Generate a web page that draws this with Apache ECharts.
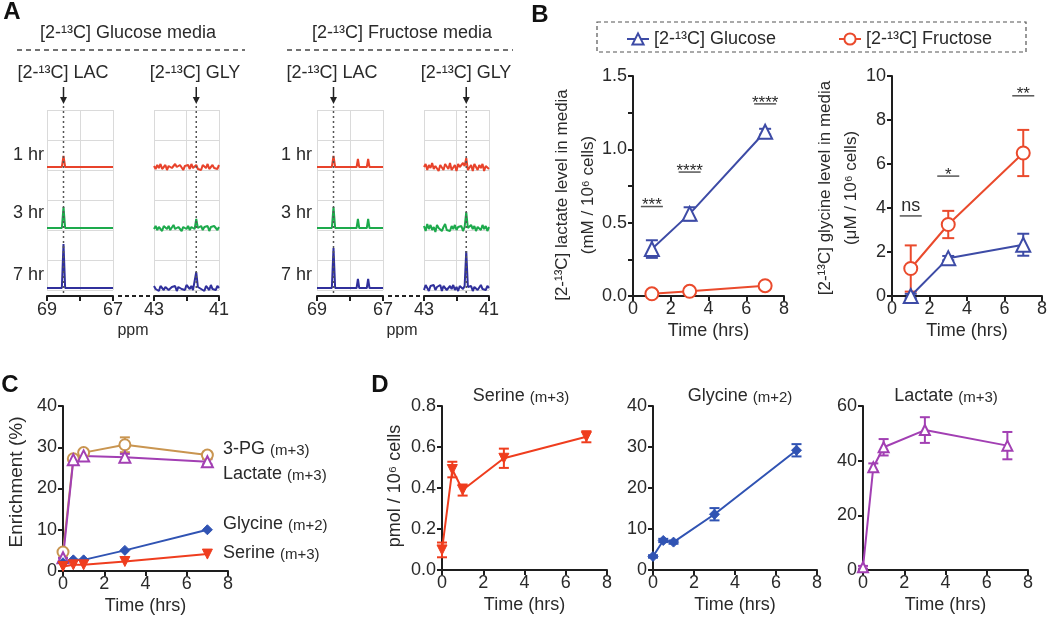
<!DOCTYPE html>
<html><head><meta charset="utf-8">
<script src="https://cdn.jsdelivr.net/npm/echarts@6/dist/echarts.min.js"></script>
<style>html,body{margin:0;padding:0;background:#fff}#c{width:1050px;height:617px}</style>
</head><body><div id="c"></div><script>
// ================= DATA =================
// ---- Panel A: 13C NMR spectra, points are [ppm, intensity (a.u.)] ----
const spectrumHours = ['1 hr', '3 hr', '7 hr'];
const lacTickLabels = [69, 67];
const glyTickLabels = [43, 41];
const lacPeakPpm = 68.5;
const glyPeakPpm = 41.7;
const glyPpmStart = 43, glyPpmStep = 0.05;

const glcLac1h = [[69,0],[68.55,0],[68.5,11],[68.45,0],[67,0]];
const glcLac3h = [[69,0],[68.55,0],[68.5,21],[68.45,0],[67,0]];
const glcLac7h = [[69,0],[68.55,0],[68.5,44],[68.45,0],[67,0]];
const frcLac1h = [[69,0],[68.55,0],[68.5,11],[68.45,0],[67.8,0],[67.76,8],[67.72,0],[67.49,0],[67.45,8],[67.41,0],[67,0]];
const frcLac3h = [[69,0],[68.55,0],[68.5,21],[68.45,0],[67.8,0],[67.76,9],[67.72,0],[67.49,0],[67.45,9],[67.41,0],[67,0]];
const frcLac7h = [[69,0],[68.55,0],[68.5,40],[68.45,0],[67.8,0],[67.76,9],[67.72,0],[67.49,0],[67.45,9],[67.41,0],[67,0]];

// glycine region: intensities sampled every 0.05 ppm from 43 to 41
const glcGly1h = [1,-2,2,-1,3,-2,0,2,-3,1,2,-1,-2,3,0,-2,2,1,-3,1,0,2,-2,3,-1,1,2,-2,0,-3,2,1,-1,3,-2,0,2,-1,1,-2,2];
const glcGly3h = [-1,2,-2,1,0,-3,2,1,-1,2,-2,0,3,-1,-2,1,2,-3,1,0,-1,2,-2,1,3,-1,9,0,-1,2,-2,1,0,2,-3,1,-1,2,0,-2,1];
const glcGly7h = [2,-1,1,-3,2,0,-2,1,3,-2,0,1,-1,2,-3,1,2,-1,0,-2,3,1,-1,2,-2,0,16,1,2,-1,1,-3,2,0,-2,3,-1,1,-2,2,0];
const frcGly1h = [0,3,-3,2,-1,4,-2,1,3,-4,2,0,-3,3,1,-2,4,-3,-1,2,-4,3,0,-2,4,1,9,-3,-2,2,-4,3,1,-3,2,-1,3,-4,1,2,-2];
const frcGly3h = [2,-3,4,-1,3,-2,1,-4,3,0,2,-3,1,4,-2,0,-3,2,-1,3,-2,1,-1,2,-3,1,16,0,-2,3,-1,2,-3,1,0,-2,3,-1,2,-3,1];
const frcGly7h = [-2,3,1,-3,2,0,3,-2,1,-1,3,-3,2,1,-2,0,2,-1,3,-2,1,-3,2,0,-1,2,37,1,-1,2,-3,1,2,-2,0,3,-1,1,-2,2,0];

// ---- Panel B ----
const GLC_NAME = '[2-\u00B9\u00B3C] Glucose';
const FRC_NAME = '[2-\u00B9\u00B3C] Fructose';
const bTime = [1, 3, 7];
const bLacGlc = [0.32, 0.56, 1.12];
const bLacGlcErr = [0.06, 0.045, 0.02];
const bLacFrc = [0.015, 0.032, 0.07];
const bLacFrcErr = [0.005, 0.005, 0.008];
const bLacSig = ['***', '****', '****'];
const bLacSigY = [0.61, 0.845, 1.31];
const bGlyGlc = [0.0, 1.72, 2.33];
const bGlyGlcErr = [0.1, 0.1, 0.5];
const bGlyFrc = [1.25, 3.25, 6.5];
const bGlyFrcErr = [1.05, 0.62, 1.05];
const bGlySig = ['ns', '*', '**'];
const bGlySigY = [3.64, 5.45, 9.1];

// ---- Panel C: enrichment (%) ----
const cTime = [0, 0.5, 1, 3, 7];
const c3pg = [4.6, 27.2, 28.7, 30.6, 28.1];
const c3pgErr = [0, 0, 0, 1.8, 0.8];
const cLac = [3.2, 27.0, 27.9, 27.6, 26.5];
const cLacErr = [0, 0, 0, 0.8, 0.6];
const cGly = [2.0, 2.7, 2.7, 5.0, 10.0];
const cSer = [1.1, 1.5, 1.5, 2.3, 4.1];

// ---- Panel D: pmol / 10^6 cells ----
const dTime = [0, 0.5, 1, 3, 7];
const dSer = [0.098, 0.49, 0.39, 0.545, 0.65];
const dSerErr = [0.036, 0.038, 0.027, 0.047, 0.027];
const dGly = [3.3, 7.2, 6.8, 13.6, 29.2];
const dGlyErr = [0.3, 0.4, 0.4, 1.5, 1.5];
const dLac = [1.0, 37.6, 44.9, 51.2, 45.5];
const dLacErr = [0.5, 1.4, 3.0, 4.7, 5.0];

// ================= STYLE =================
const FONT = "'Liberation Sans', Arial, sans-serif";
const TXT = '#2a2a2a', AX = '#1e1e1e', GRIDC = '#dadada';
const SPEC_COLORS = ['#e8432b', '#1daa4c', '#30309c'];
const BLUE_B = '#3d4ba6', RED_B = '#ea4a2c';
const TAN = '#c99550', PURPLE = '#a23fb3', BLUE_C = '#3053b3', RED_C = '#ef3d1e';
const traceOffsets = [123, 62, 2]; // vertical stacking of 1/3/7 hr traces

const grids = [
  {left:47, top:110, width:66, height:180},
  {left:154, top:110, width:65, height:180},
  {left:317, top:110, width:66, height:180},
  {left:424, top:110, width:65, height:180},
  {left:633, top:76, width:151, height:220},
  {left:892, top:76, width:153, height:220},
  {left:63, top:406, width:165, height:165},
  {left:442, top:406, width:165, height:164},
  {left:653, top:406, width:164, height:164},
  {left:863, top:406, width:165, height:164}
];

const zip = (xs, ys) => xs.map((x, k) => [x, ys[k]]);
const glyPts = arr => arr.map((v, k) => [+(glyPpmStart - k * glyPpmStep).toFixed(3), v]);

function nmrX(i, labels) {
  return {gridIndex:i, type:'value', min:Math.min(...labels), max:Math.max(...labels), interval:1, inverse:true, offset:6,
    axisLine:{onZero:false, lineStyle:{color:AX, width:2}},
    axisTick:{length:5, lineStyle:{color:AX, width:2}},
    axisLabel:{color:TXT, fontSize:18, fontFamily:FONT, margin:5, formatter:v => labels.indexOf(v) >= 0 ? String(v) : ''},
    splitLine:{show:true, lineStyle:{color:GRIDC, width:1}}};
}
function nmrY(i) {
  return {gridIndex:i, type:'value', min:0, max:180, interval:30,
    axisLine:{show:false}, axisTick:{show:false}, axisLabel:{show:false},
    splitLine:{show:true, lineStyle:{color:GRIDC, width:1}}};
}
function timeX(i) {
  return {gridIndex:i, type:'value', min:0, max:8, interval:2,
    axisLine:{onZero:false, lineStyle:{color:AX, width:2}},
    axisTick:{length:5, lineStyle:{color:AX, width:2}},
    axisLabel:{color:TXT, fontSize:18, fontFamily:FONT, margin:4},
    splitLine:{show:false},
    name:'Time (hrs)', nameLocation:'middle', nameGap:26,
    nameTextStyle:{color:TXT, fontSize:18, fontFamily:FONT}};
}
function valY(i, max, interval, dec, minor) {
  const a = {gridIndex:i, type:'value', min:0, max, interval,
    axisLine:{onZero:false, lineStyle:{color:AX, width:2}},
    axisTick:{length:5, lineStyle:{color:AX, width:2}},
    axisLabel:{color:TXT, fontSize:18, fontFamily:FONT, margin:6, formatter:v => dec ? v.toFixed(dec) : String(Math.round(v))},
    splitLine:{show:false}};
  if (minor) a.minorTick = {show:true, splitNumber:minor, length:5, lineStyle:{color:AX, width:2}};
  return a;
}

function specSeries(gi, pts, k, w) {
  return {type:'line', xAxisIndex:gi, yAxisIndex:gi, data:pts.map(p => [p[0], p[1] + traceOffsets[k]]),
    symbol:'none', clip:false, silent:true, z:3, lineStyle:{color:SPEC_COLORS[k], width:w}};
}
function lineSeries(gi, name, xs, ys, color, symbol, size, open, rot) {
  return {type:'line', name, xAxisIndex:gi, yAxisIndex:gi, data:zip(xs, ys), clip:false, z:4,
    symbol, symbolSize:size, symbolRotate:rot || 0,
    itemStyle:open ? {color:'#fff', borderColor:color, borderWidth:2} : {color, borderColor:color, borderWidth:1},
    lineStyle:{color, width:2}};
}
function errSeries(gi, xs, ys, es, color, cap) {
  return {type:'custom', xAxisIndex:gi, yAxisIndex:gi, clip:false, z:3, silent:true,
    data:xs.map((x, k) => [x, ys[k], es[k]]), encode:{x:0, y:1},
    renderItem:(params, api) => {
      const x = api.value(0), y = api.value(1), e = api.value(2);
      const t = api.coord([x, y + e]), b = api.coord([x, y - e]);
      const st = {stroke:color, lineWidth:2};
      return {type:'group', children:[
        {type:'line', shape:{x1:t[0], y1:t[1], x2:b[0], y2:b[1]}, style:st},
        {type:'line', shape:{x1:t[0]-cap, y1:t[1], x2:t[0]+cap, y2:t[1]}, style:st},
        {type:'line', shape:{x1:b[0]-cap, y1:b[1], x2:b[0]+cap, y2:b[1]}, style:st}]};
    }};
}
function sigSeries(gi, xs, labels, ys) {
  return {type:'custom', xAxisIndex:gi, yAxisIndex:gi, clip:false, z:5, silent:true,
    data:xs.map((x, k) => [x, ys[k], k]), encode:{x:0, y:1},
    renderItem:(params, api) => {
      const p = api.coord([api.value(0), api.value(1)]);
      const lab = labels[api.value(2)];
      const star = lab.indexOf('*') >= 0;
      return {type:'group', children:[
        {type:'line', shape:{x1:p[0]-11, y1:p[1], x2:p[0]+11, y2:p[1]}, style:{stroke:'#555', lineWidth:1.5}},
        {type:'text', style:{text:lab, x:p[0], y:star ? p[1]-1 : p[1]-1,
          align:'center', textAlign:'center', verticalAlign:star ? 'middle' : 'bottom', textVerticalAlign:star ? 'middle' : 'bottom',
          fill:TXT, fontSize:star ? 17 : 18, fontFamily:FONT}}]};
    }};
}

const series = [];
[glcLac1h, glcLac3h, glcLac7h].forEach((d, k) => series.push(specSeries(0, d, k, 2)));
[glcGly1h, glcGly3h, glcGly7h].forEach((d, k) => series.push(specSeries(1, glyPts(d), k, 2)));
[frcLac1h, frcLac3h, frcLac7h].forEach((d, k) => series.push(specSeries(2, d, k, 2)));
[frcGly1h, frcGly3h, frcGly7h].forEach((d, k) => series.push(specSeries(3, glyPts(d), k, 2)));

series.push(errSeries(4, bTime, bLacGlc, bLacGlcErr, BLUE_B, 6));
series.push(errSeries(4, bTime, bLacFrc, bLacFrcErr, RED_B, 6));
series.push(lineSeries(4, GLC_NAME, bTime, bLacGlc, BLUE_B, 'triangle', 14, true));
series.push(lineSeries(4, FRC_NAME, bTime, bLacFrc, RED_B, 'circle', 13, true));
series.push(sigSeries(4, bTime, bLacSig, bLacSigY));
series.push(errSeries(5, bTime, bGlyGlc, bGlyGlcErr, BLUE_B, 6));
series.push(errSeries(5, bTime, bGlyFrc, bGlyFrcErr, RED_B, 6));
series.push(lineSeries(5, GLC_NAME, bTime, bGlyGlc, BLUE_B, 'triangle', 14, true));
series.push(lineSeries(5, FRC_NAME, bTime, bGlyFrc, RED_B, 'circle', 13, true));
series.push(sigSeries(5, bTime, bGlySig, bGlySigY));

series.push(errSeries(6, cTime, c3pg, c3pgErr, TAN, 5));
series.push(errSeries(6, cTime, cLac, cLacErr, PURPLE, 5));
series.push(lineSeries(6, '3-PG', cTime, c3pg, TAN, 'circle', 11, true));
series.push(lineSeries(6, 'Lactate', cTime, cLac, PURPLE, 'triangle', 11, true));
series.push(lineSeries(6, 'Glycine', cTime, cGly, BLUE_C, 'diamond', 10, false));
series.push(lineSeries(6, 'Serine', cTime, cSer, RED_C, 'triangle', 10, false, 180));

series.push(errSeries(7, dTime, dSer, dSerErr, RED_C, 5));
series.push(lineSeries(7, 'Serine D', dTime, dSer, RED_C, 'triangle', 10, false, 180));
series.push(errSeries(8, dTime, dGly, dGlyErr, BLUE_C, 5));
series.push(lineSeries(8, 'Glycine D', dTime, dGly, BLUE_C, 'diamond', 10, false));
series.push(errSeries(9, dTime, dLac, dLacErr, PURPLE, 5));
series.push(lineSeries(9, 'Lactate D', dTime, dLac, PURPLE, 'triangle', 10, true));

const option = {
  animation:false,
  backgroundColor:'#fff',
  textStyle:{fontFamily:FONT},
  grid:grids,
  xAxis:[nmrX(0, lacTickLabels), nmrX(1, glyTickLabels), nmrX(2, lacTickLabels), nmrX(3, glyTickLabels),
         timeX(4), timeX(5), timeX(6), timeX(7), timeX(8), timeX(9)],
  yAxis:[nmrY(0), nmrY(1), nmrY(2), nmrY(3),
         valY(4, 1.5, 0.5, 1, 2), valY(5, 10, 2, 0), valY(6, 40, 10, 0), valY(7, 0.8, 0.2, 1), valY(8, 40, 10, 0), valY(9, 60, 20, 0)],
  legend:{data:[GLC_NAME, FRC_NAME], left:621, top:25, itemWidth:22, itemHeight:14, itemGap:62, selectedMode:false,
    textStyle:{fontSize:18, color:TXT, fontFamily:FONT}},
  series
};

const chart = echarts.init(document.getElementById('c'), null, {renderer:'canvas'});
chart.setOption(option);

// ============ annotations ============
function txt(x, y, text, size, o) {
  o = o || {};
  const al = o.align || 'center';
  const st = {text, fontSize:size, fontFamily:FONT, fill:o.color || TXT, fontWeight:o.bold ? 'bold' : 'normal',
    align:al, textAlign:al, verticalAlign:'middle', textVerticalAlign:'middle'};
  if (o.rich) st.rich = o.rich;
  if (o.lh) st.lineHeight = o.lh;
  return {type:'text', x, y, rotation:o.rot || 0, z:100, style:st};
}
const richM = {
  a:{fontSize:18, fontFamily:FONT, fill:TXT, color:TXT, verticalAlign:'bottom', lineHeight:20},
  b:{fontSize:15, fontFamily:FONT, fill:TXT, color:TXT, verticalAlign:'bottom', lineHeight:20}
};
function line(x1, y1, x2, y2, stroke, w, dash) {
  const s = {stroke, lineWidth:w};
  if (dash) s.lineDash = dash;
  return {type:'line', z:100, shape:{x1, y1, x2, y2}, style:s};
}

const g = [];
// panel letters
g.push(txt(12, 12, 'A', 24, {bold:true, color:'#111'}));
g.push(txt(540, 15, 'B', 24, {bold:true, color:'#111'}));
g.push(txt(10, 385, 'C', 24, {bold:true, color:'#111'}));
g.push(txt(380, 385, 'D', 24, {bold:true, color:'#111'}));

// panel A headers
g.push(txt(128, 33, '[2-\u00B9\u00B3C] Glucose media', 18));
g.push(line(17, 50, 245, 50, '#444', 1.5, [5, 4]));
g.push(txt(402, 33, '[2-\u00B9\u00B3C] Fructose media', 18));
g.push(line(287, 50, 513, 50, '#444', 1.5, [5, 4]));
g.push(txt(63, 73, '[2-\u00B9\u00B3C] LAC', 18));
g.push(txt(195, 73, '[2-\u00B9\u00B3C] GLY', 18));
g.push(txt(332, 73, '[2-\u00B9\u00B3C] LAC', 18));
g.push(txt(466, 73, '[2-\u00B9\u00B3C] GLY', 18));
const hrY = [155, 213, 275];
spectrumHours.forEach((h, k) => {
  g.push(txt(44, hrY[k], h, 18, {align:'right'}));
  g.push(txt(312, hrY[k], h, 18, {align:'right'}));
});
g.push(txt(133, 331, 'ppm', 16));
g.push(txt(402, 331, 'ppm', 16));
// axis breaks
g.push(line(118, 296, 150, 296, '#222', 2, [4, 3]));
g.push(line(388, 296, 420, 296, '#222', 2, [4, 3]));
// arrows + dotted guide lines at peak positions
[[0, lacPeakPpm], [1, glyPeakPpm], [2, lacPeakPpm], [3, glyPeakPpm]].forEach(([gi, ppm]) => {
  const x = chart.convertToPixel({xAxisIndex:gi}, ppm);
  g.push(line(x, 87, x, 98, '#222', 1.5));
  g.push({type:'polygon', z:100, shape:{points:[[x-3.5, 97], [x+3.5, 97], [x, 104]]}, style:{fill:'#222'}});
  g.push(line(x, 106, x, 296, '#555', 1.5, [2, 3]));
});

// panel B legend box
g.push({type:'rect', z:100, shape:{x:597, y:22, width:429, height:30}, style:{fill:'none', stroke:'#555', lineWidth:1.2, lineDash:[4, 3]}});
// panel B y titles
g.push(txt(575, 195, '[2-\u00B9\u00B3C] lactate level in media\n(mM / 10\u2076 cells)', 17, {rot:Math.PI/2, lh:26}));
g.push(txt(838, 188, '[2-\u00B9\u00B3C] glycine level in media\n(\u03BCM / 10\u2076 cells)', 17, {rot:Math.PI/2, lh:26}));

// panel C
g.push(txt(17, 482, 'Enrichment (%)', 19, {rot:Math.PI/2}));
g.push(txt(223, 448, '{a|3-PG} {b|(m+3)}', 18, {align:'left', rich:richM}));
g.push(txt(223, 473, '{a|Lactate} {b|(m+3)}', 18, {align:'left', rich:richM}));
g.push(txt(223, 523, '{a|Glycine} {b|(m+2)}', 18, {align:'left', rich:richM}));
g.push(txt(223, 552, '{a|Serine} {b|(m+3)}', 18, {align:'left', rich:richM}));

// panel D
g.push(txt(395, 486, 'pmol / 10\u2076 cells', 18, {rot:Math.PI/2}));
g.push(txt(521, 395, '{a|Serine} {b|(m+3)}', 18, {rich:richM}));
g.push(txt(740, 395, '{a|Glycine} {b|(m+2)}', 18, {rich:richM}));
g.push(txt(946, 395, '{a|Lactate} {b|(m+3)}', 18, {rich:richM}));

chart.setOption({graphic:{elements:g}});
</script></body></html>
